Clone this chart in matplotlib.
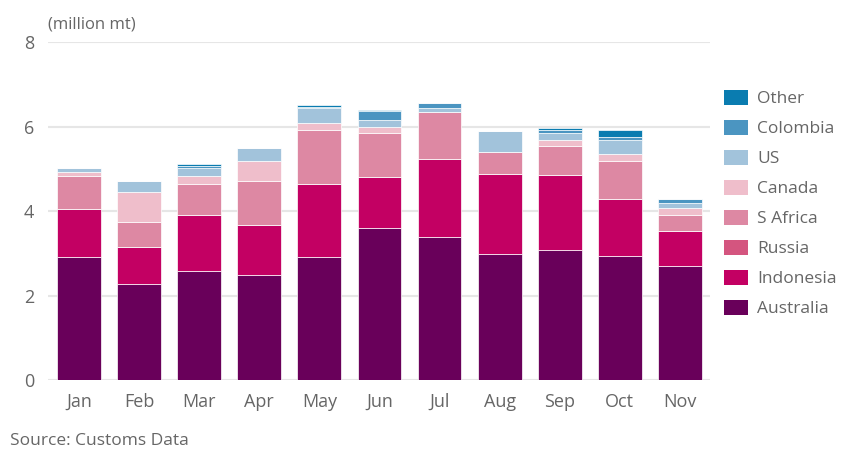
import matplotlib
matplotlib.use("Agg")
import matplotlib.pyplot as plt
from matplotlib.patches import Patch
import numpy as np

months = ["Jan", "Feb", "Mar", "Apr", "May", "Jun", "Jul", "Aug", "Sep", "Oct", "Nov"]
australia = [2.91, 2.28, 2.59, 2.49, 2.91, 3.60, 3.39, 2.98, 3.07, 2.94, 2.70]
indonesia = [1.15, 0.87, 1.32, 1.18, 1.73, 1.21, 1.84, 1.90, 1.78, 1.35, 0.83]
russia    = [0.00, 0.00, 0.00, 0.00, 0.00, 0.00, 0.00, 0.00, 0.00, 0.00, 0.00]
s_africa  = [0.78, 0.59, 0.73, 1.05, 1.28, 1.04, 1.11, 0.52, 0.69, 0.91, 0.38]
canada    = [0.08, 0.72, 0.20, 0.48, 0.17, 0.14, 0.00, 0.00, 0.14, 0.16, 0.17]
us        = [0.10, 0.25, 0.18, 0.30, 0.35, 0.18, 0.10, 0.49, 0.17, 0.33, 0.11]
colombia  = [0.00, 0.00, 0.06, 0.00, 0.02, 0.20, 0.13, 0.00, 0.07, 0.08, 0.10]
other     = [0.00, 0.00, 0.05, 0.00, 0.05, 0.02, 0.00, 0.00, 0.05, 0.15, 0.00]

series_names = ["Australia", "Indonesia", "Russia", "S Africa", "Canada", "US", "Colombia", "Other"]
series_vals = [australia, indonesia, russia, s_africa, canada, us, colombia, other]
colors = ["#69005a", "#c30063", "#d4557f", "#dd88a3", "#efbecb", "#a2c3db", "#4b95c1", "#0a7cb0"]

yticks = [0, 2, 4, 6, 8]

plt.rcParams['font.family'] = ['Open Sans', 'DejaVu Sans']
fig = plt.figure(figsize=(8.45, 4.51), dpi=100)
ax = fig.add_axes([0.057, 0.1574, 0.783, 0.7486])

x = np.arange(len(months))
bottom = np.zeros(len(months))
for name, vals, c in zip(series_names, series_vals, colors):
    v = np.array(vals)
    ax.bar(x, v, bottom=bottom, width=0.73, color=c, edgecolor="white", linewidth=0.5, zorder=3, label=name)
    bottom += v

ax.set_xlim(-0.516, 10.5)
ax.set_ylim(0, 8)
ax.set_yticks(yticks)
ax.set_yticklabels([str(t) for t in yticks])
ax.set_xticks(x)
ax.set_xticklabels(months)
ax.grid(axis="y", color="#e6e6e6", linewidth=1.5, zorder=0)
ax.tick_params(axis="both", length=0, labelsize=13, colors="#666666")
ax.tick_params(axis="x", pad=9)
ax.tick_params(axis="y", pad=10)
for s in ax.spines.values():
    s.set_visible(False)

fig.text(0.057, 0.963, "(million mt)", fontsize=12, color="#666666", va="top", ha="left")
fig.text(0.012, 0.004, "Source: Customs Data", fontsize=12.5, color="#666666", va="bottom", ha="left")

handles = [Patch(facecolor=c, edgecolor="none") for c in colors][::-1]
labels = series_names[::-1]
leg = fig.legend(handles, labels, loc="upper left", bbox_to_anchor=(0.848, 0.816),
                 frameon=False, fontsize=12.5, handlelength=1.4, handleheight=0.95,
                 labelspacing=0.72, handletextpad=0.55, borderaxespad=0)
for t in leg.get_texts():
    t.set_color("#666666")

fig.savefig("out.png", dpi=100)
